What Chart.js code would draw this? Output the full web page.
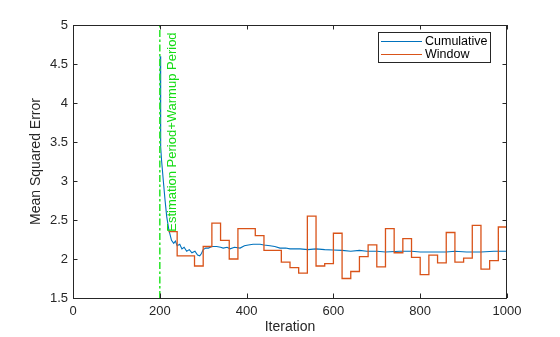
<!DOCTYPE html>
<html>
<head>
<meta charset="utf-8">
<script src="https://cdn.jsdelivr.net/npm/chart.js@4/dist/chart.umd.min.js"></script>
<style>
  html, body { margin: 0; padding: 0; background: #ffffff; }
  canvas { display: block; }
</style>
</head>
<body>
<canvas id="mseChart" width="560" height="337"></canvas>
<script>
// Cumulative mean squared error, sampled along the run
const cumIter = [201, 202, 204, 208, 212, 216, 221, 227, 232, 236, 240, 246, 251, 256, 262, 268, 274, 281, 287,
  292, 296, 300, 306, 312, 320, 331, 340, 346, 355, 362, 372, 385, 395, 404, 415, 431, 440, 454, 465, 477,
  490, 500, 523, 541, 560, 580, 599, 620, 640, 660, 677, 700, 720, 753, 780, 800, 830, 860, 880, 907,
  940, 970, 1000];
const cumMse = [4.60, 3.44, 3.27, 3.01, 2.76, 2.54, 2.37, 2.24, 2.20, 2.23, 2.17, 2.19, 2.13, 2.15, 2.10, 2.12, 2.08, 2.10, 2.05,
  2.04, 2.07, 2.12, 2.14, 2.14, 2.16, 2.16, 2.15, 2.14, 2.15, 2.13, 2.15, 2.14, 2.17, 2.18, 2.19, 2.19, 2.18, 2.17, 2.16, 2.14,
  2.14, 2.13, 2.13, 2.12, 2.13, 2.12, 2.115, 2.11, 2.10, 2.11, 2.10, 2.10, 2.09, 2.10, 2.10, 2.09, 2.09, 2.09, 2.10, 2.09,
  2.09, 2.10, 2.10];

// Windowed mean squared error, one value per 20-iteration window
const winIter = [220, 240, 260, 280, 300, 320, 340, 360, 380, 400,
  420, 440, 460, 480, 500, 520, 540, 560, 580, 600,
  620, 640, 660, 680, 700, 720, 740, 760, 780, 800,
  820, 840, 860, 880, 900, 920, 940, 960, 980, 1000];
const winMse = [2.35, 2.04, 2.04, 1.91, 2.16, 2.46, 2.24, 2.00, 2.39, 2.39,
  2.30, 2.11, 2.11, 1.96, 1.89, 1.82, 2.55, 1.91, 1.94, 2.33,
  1.75, 1.84, 2.03, 2.18, 1.90, 2.39, 2.08, 2.26, 2.02, 1.80,
  2.05, 1.95, 2.34, 1.96, 2.01, 2.43, 1.87, 1.98, 2.41, 1.82];

const seriesNames = ['Cumulative', 'Window'];
const xTicks = [0, 200, 400, 600, 800, 1000];
const yTicks = [1.5, 2, 2.5, 3, 3.5, 4, 4.5, 5];

// End of the estimation + warm-up phase
const markerIter = 200;
const markerText = 'Estimation Period+Warmup Period';
const markerTextAt = { x: 237, y: 2.35 };

const FONT = '"Liberation Sans", Arial, Helvetica, sans-serif';
const AXIS_COLOR = '#262626';
const COLORS = ['#0072BD', '#D95319'];

Chart.defaults.font.family = FONT;
Chart.defaults.color = AXIS_COLOR;

const toPoints = (xs, ys) => xs.map((x, i) => ({ x: x, y: ys[i] }));

// Box, inward ticks on all sides, phase marker and legend
const axesDecor = {
  id: 'axesDecor',
  afterDatasetsDraw(chart) {
    const { ctx, chartArea: a, scales: { x, y } } = chart;

    // phase marker (dash-dot vertical line)
    const mx = x.getPixelForValue(markerIter);
    ctx.save();
    ctx.strokeStyle = '#33e633';
    ctx.lineWidth = 1.6;
    ctx.setLineDash([7, 2.5, 2.5, 2.5]);
    ctx.beginPath();
    ctx.moveTo(mx, a.bottom);
    ctx.lineTo(mx, a.top);
    ctx.stroke();
    ctx.restore();

    // phase label, reading bottom to top
    ctx.save();
    ctx.translate(x.getPixelForValue(markerTextAt.x), y.getPixelForValue(markerTextAt.y));
    ctx.rotate(-Math.PI / 2);
    ctx.fillStyle = '#14dc14';
    ctx.font = '13px ' + FONT;
    ctx.textAlign = 'left';
    ctx.textBaseline = 'alphabetic';
    ctx.fillText(markerText, 0, 0);
    ctx.restore();

    // axes box and ticks
    ctx.save();
    ctx.strokeStyle = AXIS_COLOR;
    ctx.lineWidth = 1;
    ctx.strokeRect(a.left + 0.5, a.top + 0.5, a.right - a.left - 1, a.bottom - a.top);
    const tl = 4.5;
    ctx.beginPath();
    xTicks.forEach(v => {
      const px = Math.round(x.getPixelForValue(v)) + 0.5;
      ctx.moveTo(px, a.bottom); ctx.lineTo(px, a.bottom - tl);
      ctx.moveTo(px, a.top); ctx.lineTo(px, a.top + tl);
    });
    yTicks.forEach(v => {
      const py = Math.round(y.getPixelForValue(v)) + 0.5;
      ctx.moveTo(a.left, py); ctx.lineTo(a.left + tl, py);
      ctx.moveTo(a.right, py); ctx.lineTo(a.right - tl, py);
    });
    ctx.stroke();
    ctx.restore();

    // legend
    ctx.save();
    const bw = 112, bh = 30;
    const bx = a.right - 17 - bw, by = a.top + 7;
    ctx.fillStyle = '#ffffff';
    ctx.fillRect(bx, by, bw, bh);
    ctx.strokeStyle = AXIS_COLOR;
    ctx.lineWidth = 1;
    ctx.strokeRect(bx + 0.5, by + 0.5, bw, bh);
    ctx.font = '12.5px ' + FONT;
    ctx.textBaseline = 'middle';
    ctx.textAlign = 'left';
    seriesNames.forEach((name, i) => {
      const ry = by + 9 + i * 13;
      ctx.strokeStyle = COLORS[i];
      ctx.lineWidth = 1;
      ctx.beginPath();
      ctx.moveTo(bx + 3, ry + 0.5);
      ctx.lineTo(bx + 44, ry + 0.5);
      ctx.stroke();
      ctx.fillStyle = '#000000';
      ctx.fillText(name, bx + 47, ry + 1);
    });
    ctx.restore();
  }
};

new Chart(document.getElementById('mseChart'), {
  type: 'line',
  data: {
    datasets: [
      {
        label: seriesNames[0],
        data: toPoints(cumIter, cumMse),
        borderColor: COLORS[0],
        borderWidth: 1.1,
        pointRadius: 0,
        tension: 0,
        order: 1
      },
      {
        label: seriesNames[1],
        data: toPoints(winIter, winMse),
        borderColor: COLORS[1],
        borderWidth: 1.3,
        pointRadius: 0,
        stepped: 'before',
        order: 0
      }
    ]
  },
  options: {
    responsive: false,
    animation: false,
    devicePixelRatio: 1,
    layout: { padding: { top: 25, right: 53, left: 0, bottom: 0 } },
    plugins: {
      legend: { display: false },
      tooltip: { enabled: false }
    },
    scales: {
      x: {
        type: 'linear',
        min: 0,
        max: 1000,
        afterBuildTicks(scale) { scale.ticks = xTicks.map(v => ({ value: v })); },
        ticks: {
          callback: v => String(v),
          font: { size: 13 },
          color: AXIS_COLOR,
          padding: 6,
          maxRotation: 0
        },
        grid: { display: false, drawTicks: false },
        border: { display: false },
        title: {
          display: true,
          text: 'Iteration',
          font: { size: 14 },
          color: AXIS_COLOR,
          padding: { top: 0, bottom: 1 }
        },
        afterFit(scale) { scale.height = 39; }
      },
      y: {
        type: 'linear',
        min: 1.5,
        max: 5,
        afterBuildTicks(scale) { scale.ticks = yTicks.map(v => ({ value: v })); },
        ticks: {
          callback: v => String(v),
          font: { size: 13 },
          color: AXIS_COLOR,
          padding: 5
        },
        grid: { display: false, drawTicks: false },
        border: { display: false },
        title: {
          display: true,
          text: 'Mean Squared Error',
          font: { size: 14 },
          color: AXIS_COLOR,
          padding: { top: 28, bottom: 0 }
        },
        afterFit(scale) { scale.width = 73; }
      }
    }
  },
  plugins: [axesDecor]
});
</script>
</body>
</html>
